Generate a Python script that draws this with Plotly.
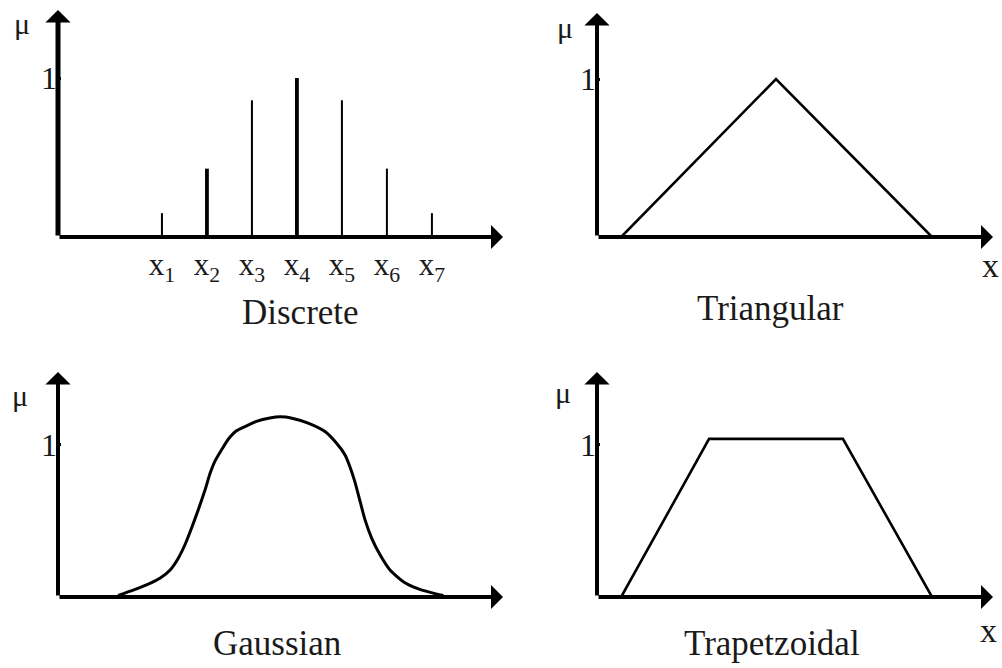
import plotly.graph_objects as go

# ---------------- data ----------------
discrete_labels = ["x<sub>1</sub>", "x<sub>2</sub>", "x<sub>3</sub>", "x<sub>4</sub>",
                   "x<sub>5</sub>", "x<sub>6</sub>", "x<sub>7</sub>"]
discrete_pos = [1, 2, 3, 4, 5, 6, 7]
discrete_mu = [0.15, 0.43, 0.86, 1.0, 0.86, 0.43, 0.15]
discrete_bold = [False, True, False, True, False, False, False]

tri_x = [0.61, 4.52, 8.46]
tri_mu = [0.0, 1.0, 0.0]

gauss_x = [1.35, 1.69, 1.99, 2.29, 2.52, 2.70, 2.85, 3.00, 3.15, 3.30, 3.42, 3.53, 3.68,
           3.83, 4.01, 4.24, 4.46, 4.76, 5.00, 5.26, 5.62, 6.00, 6.26, 6.45, 6.56, 6.67,
           6.79, 6.90, 7.05, 7.24, 7.46, 7.76, 8.10, 8.47, 8.66]
gauss_mu = [0.01, 0.045, 0.079, 0.123, 0.178, 0.254, 0.342, 0.452, 0.572, 0.700, 0.815,
            0.895, 0.97, 1.039, 1.093, 1.126, 1.155, 1.177, 1.185, 1.176, 1.143, 1.088,
            1.011, 0.934, 0.857, 0.759, 0.627, 0.507, 0.386, 0.276, 0.178, 0.101, 0.053,
            0.022, 0.01]

trap_x = [0.61, 2.83, 6.21, 8.46]
trap_mu = [0.0, 1.04, 1.04, 0.0]

titles = ["Discrete", "Triangular", "Gaussian", "Trapetzoidal"]

# ---------------- layout geometry (pixels) ----------------
W, H = 1002, 668
FONT = "Liberation Serif"
INK = "#1a1a1a"

# ox, oy: axis origin; tx, ty: arrow tips; x-range at [ox, tx]; y-range [0, ytop]
panels = [
    dict(ox=58, oy=237, tx=503, ty=10, xr=(-1.31, 8.58), yr=(0, 1.428), yw=5, xw=4),
    dict(ox=597, oy=237, tx=993, ty=13, xr=(0, 10), yr=(0, 1.418), yw=4, xw=4),
    dict(ox=58, oy=597, tx=503, ty=372, xr=(0, 10), yr=(0, 1.48), yw=4, xw=4),
    dict(ox=597, oy=597, tx=993, ty=372, xr=(0, 10), yr=(0, 1.48), yw=4, xw=4),
]

fig = go.Figure()

# Discrete bars
p = panels[0]
px_per_unit = (p["tx"] - p["ox"]) / (p["xr"][1] - p["xr"][0])
widths = [(3.8 if b else 2.0) / px_per_unit for b in discrete_bold]
fig.add_trace(go.Bar(x=discrete_pos, y=discrete_mu, width=widths,
                     marker=dict(color="black", line=dict(width=0)),
                     xaxis="x", yaxis="y", showlegend=False, hoverinfo="skip"))

fig.add_trace(go.Scatter(x=tri_x, y=tri_mu, mode="lines",
                         line=dict(color="black", width=2.6),
                         xaxis="x2", yaxis="y2", showlegend=False, cliponaxis=False))
fig.add_trace(go.Scatter(x=gauss_x, y=gauss_mu, mode="lines",
                         line=dict(color="black", width=3, shape="spline", smoothing=0.6),
                         xaxis="x3", yaxis="y3", showlegend=False, cliponaxis=False))
fig.add_trace(go.Scatter(x=trap_x, y=trap_mu, mode="lines",
                         line=dict(color="black", width=2.6),
                         xaxis="x4", yaxis="y4", showlegend=False, cliponaxis=False))

annotations = []
layout = dict(
    width=W, height=H, margin=dict(l=0, r=0, t=0, b=0),
    paper_bgcolor="white", plot_bgcolor="rgba(0,0,0,0)",
    showlegend=False, template="none", barmode="overlay",
    font=dict(family=FONT, color=INK),
)

for i, p in enumerate(panels):
    n = "" if i == 0 else str(i + 1)
    xa = "xaxis" + n
    ya = "yaxis" + n
    xname = "x" + n
    yname = "y" + n
    layout[xa] = dict(
        domain=[p["ox"] / W, p["tx"] / W], range=list(p["xr"]),
        showgrid=False, zeroline=False, showline=False, anchor=yname,
        ticks="", showticklabels=(i == 0), fixedrange=True,
    )
    if i == 0:
        layout[xa].update(tickmode="array", tickvals=discrete_pos, ticktext=discrete_labels,
                          tickfont=dict(family=FONT, size=31, color=INK), ticklabelstandoff=6)
    layout[ya] = dict(
        domain=[1 - p["oy"] / H, 1 - p["ty"] / H], range=list(p["yr"]),
        showgrid=False, zeroline=False, showline=False, anchor=xname,
        tickmode="array", tickvals=[1], ticktext=["1"], ticks="inside",
        ticklen=3, tickwidth=3, tickcolor="black",
        tickfont=dict(family=FONT, size=32, color=INK), fixedrange=True,
    )
    # axis arrows
    x0, x1 = p["xr"]
    y0, y1 = p["yr"]
    common = dict(xref=xname, yref=yname, axref=xname, ayref=yname, text="",
                  showarrow=True, arrowhead=1, arrowcolor="black", standoff=0)
    annotations.append(dict(x=x1, y=0, ax=x0, ay=0, arrowwidth=p["xw"], arrowsize=1.0, **common))
    annotations.append(dict(x=x0, y=y1, ax=x0, ay=0, arrowwidth=p["yw"],
                            arrowsize=4.2 / p["yw"], **common))

# text labels (paper coordinates from pixel positions)
def txt(s, x, y, size):
    return dict(text=s, x=x / W, y=1 - y / H, xref="paper", yref="paper",
                showarrow=False, xanchor="center", yanchor="middle",
                font=dict(family=FONT, size=size, color=INK))

annotations += [
    txt(titles[0], 300, 312, 35),
    txt(titles[1], 770, 308, 35),
    txt(titles[2], 277, 643, 35),
    txt(titles[3], 772, 643, 35),
    txt("μ", 22, 24, 30), txt("μ", 565, 27, 30),
    txt("μ", 20, 395, 30), txt("μ", 563, 392, 30),
    txt("x", 990, 265, 34), txt("x", 988, 630, 34),
]
layout["annotations"] = annotations
fig.update_layout(**layout)
fig.write_html("out.html", config={"displayModeBar": False},
               post_script="document.body.style.margin='0';document.body.style.overflow='hidden';")
